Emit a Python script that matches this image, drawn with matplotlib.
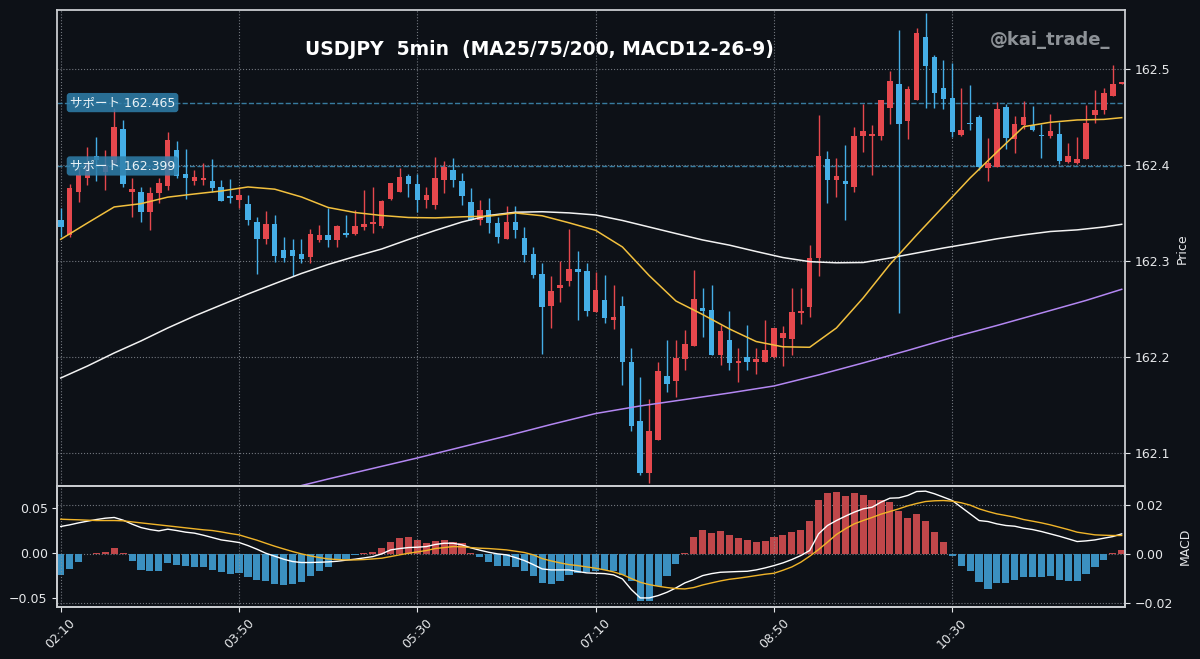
import numpy as np
import pandas as pd
import matplotlib
matplotlib.use("Agg")
import matplotlib.pyplot as plt
import matplotlib.transforms as mtransforms

plt.rcParams['font.family'] = ['DejaVu Sans', 'Noto Sans CJK JP']

# USDJPY 5min candles, first bar 02:10
opens = [162.343, 162.327, 162.372, 162.386, 162.409, 162.393, 162.402, 162.437, 162.372, 162.372,
         162.351, 162.371, 162.378, 162.416, 162.391, 162.383, 162.384, 162.383, 162.377, 162.367,
         162.364, 162.359, 162.341, 162.323, 162.339, 162.311, 162.311, 162.307, 162.304, 162.322,
         162.327, 162.322, 162.329, 162.328, 162.335, 162.339, 162.336, 162.365, 162.372, 162.389,
         162.380, 162.364, 162.358, 162.384, 162.395, 162.383, 162.361, 162.343, 162.353, 162.340,
         162.323, 162.341, 162.324, 162.307, 162.286, 162.253, 162.272, 162.279, 162.292, 162.290,
         162.247, 162.259, 162.238, 162.253, 162.195, 162.133, 162.079, 162.114, 162.180, 162.175,
         162.198, 162.211, 162.251, 162.249, 162.202, 162.218, 162.194, 162.200, 162.195, 162.195,
         162.200, 162.220, 162.219, 162.246, 162.252, 162.303, 162.406, 162.384, 162.383, 162.377,
         162.430, 162.430, 162.430, 162.459, 162.484, 162.446, 162.468, 162.533, 162.513, 162.480,
         162.470, 162.431, 162.444, 162.450, 162.397, 162.398, 162.460, 162.427, 162.442, 162.442,
         162.431, 162.430, 162.432, 162.403, 162.402, 162.406, 162.452, 162.457, 162.472, 162.485]
highs = [162.355, 162.380, 162.397, 162.419, 162.429, 162.416, 162.459, 162.447, 162.386, 162.377,
         162.377, 162.386, 162.434, 162.425, 162.417, 162.395, 162.402, 162.406, 162.384, 162.385,
         162.377, 162.369, 162.346, 162.352, 162.348, 162.325, 162.323, 162.323, 162.333, 162.338,
         162.355, 162.338, 162.348, 162.353, 162.374, 162.377, 162.364, 162.381, 162.397, 162.391,
         162.391, 162.377, 162.408, 162.404, 162.407, 162.392, 162.376, 162.364, 162.366, 162.346,
         162.357, 162.357, 162.335, 162.315, 162.298, 162.284, 162.300, 162.333, 162.310, 162.298,
         162.289, 162.285, 162.275, 162.263, 162.209, 162.179, 162.156, 162.195, 162.218, 162.218,
         162.228, 162.291, 162.272, 162.275, 162.233, 162.248, 162.209, 162.233, 162.209, 162.239,
         162.230, 162.232, 162.272, 162.272, 162.317, 162.452, 162.415, 162.407, 162.421, 162.440,
         162.464, 162.442, 162.468, 162.498, 162.541, 162.482, 162.543, 162.558, 162.515, 162.509,
         162.506, 162.480, 162.483, 162.452, 162.428, 162.466, 162.464, 162.451, 162.467, 162.461,
         162.443, 162.453, 162.445, 162.423, 162.429, 162.463, 162.478, 162.480, 162.504, 162.486]
lows = [162.325, 162.325, 162.361, 162.379, 162.383, 162.374, 162.400, 162.377, 162.346, 162.341,
        162.332, 162.360, 162.374, 162.386, 162.365, 162.379, 162.379, 162.372, 162.362, 162.360,
        162.355, 162.338, 162.286, 162.318, 162.299, 162.299, 162.284, 162.298, 162.298, 162.320,
        162.315, 162.315, 162.325, 162.327, 162.332, 162.329, 162.334, 162.364, 162.372, 162.367,
        162.351, 162.355, 162.354, 162.371, 162.377, 162.358, 162.343, 162.338, 162.329, 162.319,
        162.323, 162.324, 162.299, 162.282, 162.203, 162.230, 162.257, 162.274, 162.238, 162.243,
        162.247, 162.235, 162.229, 162.171, 162.123, 162.077, 162.069, 162.114, 162.164, 162.158,
        162.186, 162.211, 162.221, 162.202, 162.192, 162.186, 162.174, 162.186, 162.182, 162.195,
        162.199, 162.191, 162.202, 162.234, 162.242, 162.284, 162.360, 162.367, 162.343, 162.372,
        162.414, 162.390, 162.426, 162.443, 162.246, 162.427, 162.468, 162.459, 162.459, 162.458,
        162.429, 162.430, 162.436, 162.395, 162.383, 162.398, 162.417, 162.412, 162.437, 162.435,
        162.407, 162.428, 162.401, 162.402, 162.401, 162.406, 162.444, 162.453, 162.472, 162.484]
closes = [162.335, 162.376, 162.390, 162.402, 162.405, 162.399, 162.440, 162.380, 162.375, 162.351,
          162.371, 162.381, 162.426, 162.389, 162.386, 162.387, 162.386, 162.376, 162.363, 162.366,
          162.369, 162.343, 162.323, 162.339, 162.305, 162.303, 162.305, 162.302, 162.328, 162.327,
          162.322, 162.336, 162.327, 162.336, 162.339, 162.341, 162.363, 162.381, 162.387, 162.380,
          162.364, 162.369, 162.386, 162.398, 162.384, 162.368, 162.343, 162.353, 162.340, 162.325,
          162.341, 162.332, 162.306, 162.285, 162.252, 162.269, 162.275, 162.292, 162.289, 162.248,
          162.270, 162.241, 162.242, 162.195, 162.128, 162.079, 162.123, 162.185, 162.172, 162.199,
          162.214, 162.260, 162.248, 162.202, 162.227, 162.194, 162.196, 162.195, 162.198, 162.207,
          162.230, 162.225, 162.247, 162.248, 162.303, 162.409, 162.384, 162.389, 162.380, 162.430,
          162.435, 162.432, 162.468, 162.487, 162.443, 162.479, 162.538, 162.503, 162.475, 162.469,
          162.434, 162.436, 162.443, 162.398, 162.402, 162.458, 162.428, 162.443, 162.450, 162.436,
          162.430, 162.435, 162.404, 162.409, 162.406, 162.444, 162.457, 162.475, 162.484, 162.486]

# moving averages (bar index, price)
ma25_x = [0, 3, 6, 9, 12, 15, 18, 21, 24, 27, 30, 33, 36, 39, 42, 45, 48, 51, 54, 57, 60,
          63, 66, 69, 72, 75, 78, 81, 84, 87, 90, 93, 96, 99, 102, 105, 108, 111, 114, 117, 119]
ma25 = [162.3226, 162.3396, 162.3563, 162.3597, 162.3665, 162.3698, 162.3729, 162.3771, 162.3748,
        162.3667, 162.3557, 162.3505, 162.3474, 162.3453, 162.3449, 162.3460, 162.3467, 162.3500,
        162.3471, 162.3398, 162.3319, 162.3146, 162.2848, 162.2583, 162.2442, 162.2292, 162.2161,
        162.2106, 162.2101, 162.2302, 162.2615, 162.2964, 162.3271, 162.3568, 162.3865, 162.4135,
        162.4399, 162.4445, 162.4469, 162.4475, 162.4493]
ma75_x = ma25_x
ma75 = [162.1781, 162.1906, 162.2042, 162.2167, 162.2302, 162.2427, 162.2542, 162.2656, 162.2764,
        162.2870, 162.2964, 162.3047, 162.3125, 162.3224, 162.3318, 162.3406, 162.3474, 162.3508,
        162.3513, 162.3501, 162.3479, 162.3422, 162.3354, 162.3286, 162.3219, 162.3165, 162.3099,
        162.3036, 162.2993, 162.2981, 162.2984, 162.3031, 162.3083, 162.3135, 162.3182, 162.3231,
        162.3272, 162.3307, 162.3324, 162.3354, 162.3382]
ma200_x = [25, 30, 35, 40, 45, 50, 55, 60, 65, 70, 75, 80, 85, 90, 95, 100, 105, 110, 115, 119]
ma200 = [162.0615, 162.0729, 162.0839, 162.0948, 162.1063, 162.1177, 162.1297, 162.1411, 162.1490,
         162.1557, 162.1625, 162.1698, 162.1813, 162.1938, 162.2068, 162.2203, 162.2328, 162.2458,
         162.2589, 162.2705]

# MACD 12-26-9
macd = [0.0293, 0.0311, 0.0333, 0.0352, 0.0370, 0.0385, 0.0393, 0.0363, 0.0319, 0.0281,
        0.0259, 0.0244, 0.0263, 0.0248, 0.0230, 0.0219, 0.0196, 0.0170, 0.0144, 0.0130,
        0.0115, 0.0081, 0.0041, -0.0004, -0.0037, -0.0070, -0.0096, -0.0107, -0.0107, -0.0104,
        -0.0100, -0.0093, -0.0081, -0.0070, -0.0056, -0.0041, -0.0011, 0.0033, 0.0048, 0.0059,
        0.0063, 0.0070, 0.0093, 0.0107, 0.0107, 0.0089, 0.0056, 0.0030, 0.0007, -0.0011,
        -0.0022, -0.0052, -0.0085, -0.0130, -0.0178, -0.0189, -0.0189, -0.0189, -0.0207, -0.0222,
        -0.0226, -0.0230, -0.0244, -0.0289, -0.0407, -0.0500, -0.0500, -0.0474, -0.0437, -0.0389,
        -0.0333, -0.0296, -0.0252, -0.0230, -0.0215, -0.0211, -0.0207, -0.0204, -0.0189, -0.0167,
        -0.0141, -0.0111, -0.0074, -0.0030, 0.0026, 0.0211, 0.0304, 0.0359, 0.0407, 0.0452,
        0.0489, 0.0507, 0.0563, 0.0607, 0.0611, 0.0637, 0.0681, 0.0685, 0.0656, 0.0619,
        0.0581, 0.0507, 0.0433, 0.0359, 0.0348, 0.0322, 0.0304, 0.0296, 0.0274, 0.0259,
        0.0237, 0.0211, 0.0185, 0.0156, 0.0126, 0.0133, 0.0144, 0.0163, 0.0181, 0.0211]
signal = [0.0374, 0.0370, 0.0367, 0.0363, 0.0359, 0.0359, 0.0359, 0.0356, 0.0344, 0.0333,
          0.0322, 0.0311, 0.0300, 0.0289, 0.0278, 0.0267, 0.0256, 0.0248, 0.0233, 0.0215,
          0.0200, 0.0170, 0.0141, 0.0107, 0.0074, 0.0044, 0.0015, -0.0011, -0.0033, -0.0052,
          -0.0067, -0.0074, -0.0078, -0.0078, -0.0074, -0.0067, -0.0059, -0.0041, -0.0022, -0.0004,
          0.0011, 0.0026, 0.0048, 0.0059, 0.0070, 0.0067, 0.0059, 0.0052, 0.0048, 0.0041,
          0.0033, 0.0019, 0.0004, -0.0022, -0.0063, -0.0089, -0.0111, -0.0130, -0.0141, -0.0156,
          -0.0170, -0.0189, -0.0211, -0.0241, -0.0285, -0.0326, -0.0352, -0.0370, -0.0385, -0.0396,
          -0.0400, -0.0385, -0.0356, -0.0333, -0.0311, -0.0293, -0.0281, -0.0267, -0.0252, -0.0237,
          -0.0226, -0.0193, -0.0156, -0.0104, -0.0037, 0.0037, 0.0119, 0.0204, 0.0267, 0.0322,
          0.0359, 0.0393, 0.0430, 0.0459, 0.0489, 0.0522, 0.0548, 0.0570, 0.0578, 0.0581,
          0.0574, 0.0556, 0.0530, 0.0489, 0.0459, 0.0433, 0.0415, 0.0396, 0.0370, 0.0352,
          0.0333, 0.0311, 0.0285, 0.0259, 0.0230, 0.0215, 0.0200, 0.0196, 0.0193, 0.0193]
hist = [-0.0086, -0.0060, -0.0033, 0.0001, 0.0005, 0.0008, 0.0027, 0.0003, -0.0026, -0.0063,
        -0.0069, -0.0069, -0.0035, -0.0042, -0.0048, -0.0050, -0.0053, -0.0063, -0.0073, -0.0080,
        -0.0076, -0.0091, -0.0106, -0.0107, -0.0120, -0.0127, -0.0120, -0.0114, -0.0090, -0.0067,
        -0.0053, -0.0020, -0.0018, -0.0004, 0.0005, 0.0008, 0.0027, 0.0050, 0.0064, 0.0069,
        0.0056, 0.0046, 0.0052, 0.0057, 0.0048, 0.0046, 0.0004, -0.0010, -0.0031, -0.0048,
        -0.0049, -0.0052, -0.0069, -0.0087, -0.0117, -0.0120, -0.0109, -0.0086, -0.0076, -0.0071,
        -0.0068, -0.0065, -0.0068, -0.0086, -0.0109, -0.0188, -0.0190, -0.0131, -0.0088, -0.0041,
        0.0005, 0.0068, 0.0098, 0.0088, 0.0095, 0.0078, 0.0067, 0.0057, 0.0050, 0.0054,
        0.0071, 0.0078, 0.0091, 0.0098, 0.0136, 0.0220, 0.0248, 0.0252, 0.0237, 0.0248,
        0.0241, 0.0220, 0.0218, 0.0211, 0.0177, 0.0148, 0.0162, 0.0136, 0.0091, 0.0048,
        -0.0008, -0.0046, -0.0069, -0.0114, -0.0140, -0.0117, -0.0117, -0.0106, -0.0094, -0.0094,
        -0.0094, -0.0090, -0.0106, -0.0109, -0.0109, -0.0082, -0.0054, -0.0024, 0.0003, 0.0018]

supports = [162.465, 162.399]
tick_labels = ["02:10", "03:50", "05:30", "07:10", "08:50", "10:30"]
times = list(pd.date_range("2000-01-01 02:10", periods=len(opens), freq="5min").strftime("%H:%M"))

bg = '#0d1117'
fg = '#e6e8ea'
spine_col = '#c9ccd0'
grid_col = '#8b9098'
up_col = '#e5484d'
dn_col = '#45aee6'

fig = plt.figure(figsize=(12, 6.59), dpi=100, facecolor=bg)
ax = fig.add_axes([0.0478, 0.2618, 0.8897, 0.7231], facecolor=bg)
axm = fig.add_axes([0.0478, 0.0794, 0.8897, 0.1824], facecolor=bg, sharex=ax)
axh = axm.twinx()

x = np.arange(len(opens))
o = np.array(opens)
h = np.array(highs)
l = np.array(lows)
c = np.array(closes)
cols = np.where(c >= o, up_col, dn_col)

# candles
ax.vlines(x, l, h, color=cols, lw=1.0, zorder=3)
body = np.maximum(np.abs(c - o), 0.0015)
bottom = np.minimum(o, c) - (body - np.abs(c - o)) / 2
ax.bar(x, body, bottom=bottom, width=0.62, color=cols, zorder=4)

ax.plot(ma200_x, ma200, color='#b387f2', lw=1.1, zorder=5)
ax.plot(ma75_x, ma75, color='#f2f2f2', lw=1.1, zorder=5)
ax.plot(ma25_x, ma25, color='#f2c03e', lw=1.1, zorder=5)

trans = mtransforms.blended_transform_factory(ax.transAxes, ax.transData)
for lv in supports:
    ax.axhline(lv, color='#3f8fb8', lw=1.0, ls='--', alpha=0.85, zorder=2)
    ax.text(0.0117, lv, f"サポート {lv:.3f}", transform=trans, ha='left', va='center',
            fontsize=9, color='#eaf2f6', zorder=7,
            bbox=dict(boxstyle='round,pad=0.25', fc='#2f7fab', ec='none', alpha=0.85))

ax.text(0.452, 0.916, "USDJPY  5min  (MA25/75/200, MACD12-26-9)", transform=ax.transAxes,
        ha='center', va='center', fontsize=13.5, fontweight='bold', color='white', zorder=8)
ax.text(0.986, 0.937, "@kai_trade_", transform=ax.transAxes, ha='right', va='center',
        fontsize=13, fontweight='bold', color='#8d9297', zorder=8)

ax.set_xlim(-0.38, 119.37)
ax.set_ylim(162.0651, 162.5615)
ax.set_yticks([162.1, 162.2, 162.3, 162.4, 162.5])
ax.yaxis.tick_right()
ax.yaxis.set_label_position('right')
ax.set_ylabel('Price', color=fg, fontsize=9)
ax.tick_params(axis='y', colors=fg, labelsize=9)
ax.tick_params(axis='x', labelbottom=False, length=0)
ax.grid(True, ls=':', color=grid_col, lw=0.8, alpha=0.8)

# MACD panel: lines on left scale, histogram on right scale
hcols = np.where(np.array(hist) >= 0, '#c0474a', '#3b90c0')
axh.bar(x, hist, width=0.8, color=hcols, zorder=2)
axm.plot(x, macd, color='white', lw=1.0)
axm.plot(x, signal, color='#f0b429', lw=1.0)
axm.set_zorder(axh.get_zorder() + 1)
axm.patch.set_visible(False)
axh.patch.set_visible(True)
axh.patch.set_facecolor(bg)

axm.set_ylim(-0.0597, 0.0737)
axm.set_yticks([-0.05, 0.0, 0.05])
axh.set_ylim(-0.0213, 0.02748)
axh.set_yticks([-0.02, 0.0, 0.02])
axh.set_ylabel('MACD', color=fg, fontsize=9)
axh.grid(True, axis='y', ls=':', color=grid_col, lw=0.8, alpha=0.8)
axm.grid(True, axis='x', ls=':', color=grid_col, lw=0.8, alpha=0.8)

tick_pos = [times.index(t) for t in tick_labels]
axm.set_xticks(tick_pos)
axm.set_xticklabels(tick_labels, rotation=45)
axm.tick_params(colors=fg, labelsize=9)
axh.tick_params(colors=fg, labelsize=9)

for a in (ax, axm, axh):
    for s in a.spines.values():
        s.set_color(spine_col)
        s.set_linewidth(1.3)

fig.savefig('out.png', dpi=100, facecolor=bg)
